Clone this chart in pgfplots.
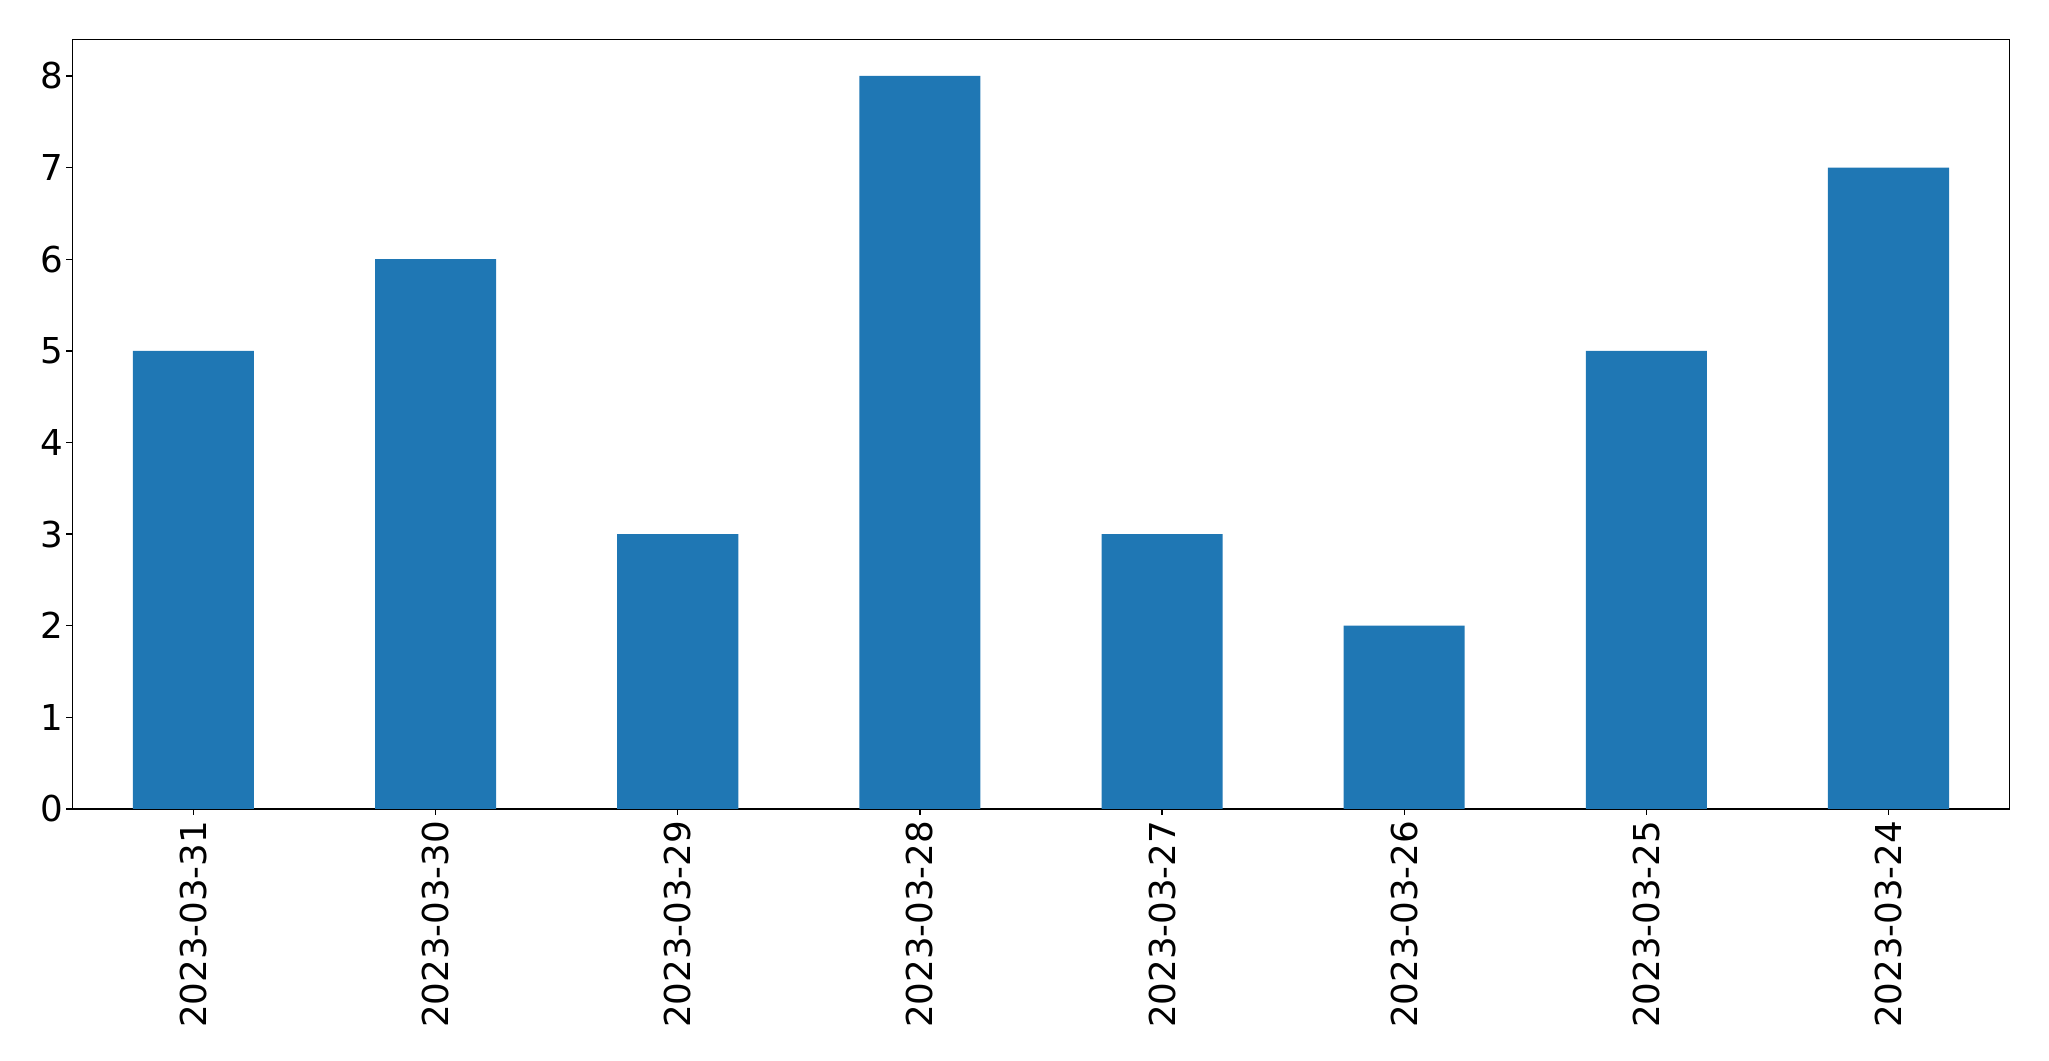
\documentclass[border=0pt]{standalone}
\usepackage{pgfplots}
\pgfplotsset{compat=1.18}
\usepackage{fontspec}
\setmainfont{DejaVu Sans}
\definecolor{mplblue}{HTML}{1F77B4}
\begin{document}
\begin{tikzpicture}
\useasboundingbox (-43.4pt,-151.2pt) rectangle (1186.0pt,485.4pt);
\begin{axis}[
  at={(0,0)}, anchor=south west,
  scale only axis,
  width=1162.4pt, height=461.8pt,
  xmin=-0.5, xmax=7.5,
  ymin=0, ymax=8.4,
  xtick={0,1,2,3,4,5,6,7},
  xticklabels={2023-03-31,2023-03-30,2023-03-29,2023-03-28,2023-03-27,2023-03-26,2023-03-25,2023-03-24},
  ytick={0,1,2,3,4,5,6,7,8},
  tick align=outside,
  major tick length=3.5pt,
  tick style={black, line width=0.8pt},
  axis line style={black, line width=0.8pt},
  xtick pos=bottom, ytick pos=left,
  /pgf/number format/assume math mode=true,
  tick label style={font=\fontsize{21.4}{25}\selectfont},
  xticklabel style={rotate=90, anchor=east},
  yticklabel style={xshift=1.5pt},
  ybar,
  bar width=0.5,
]
\addplot[fill=mplblue, draw=none] coordinates {
  (0,5) (1,6) (2,3) (3,8) (4,3) (5,2) (6,5) (7,7)
};
\end{axis}
\end{tikzpicture}
\end{document}
